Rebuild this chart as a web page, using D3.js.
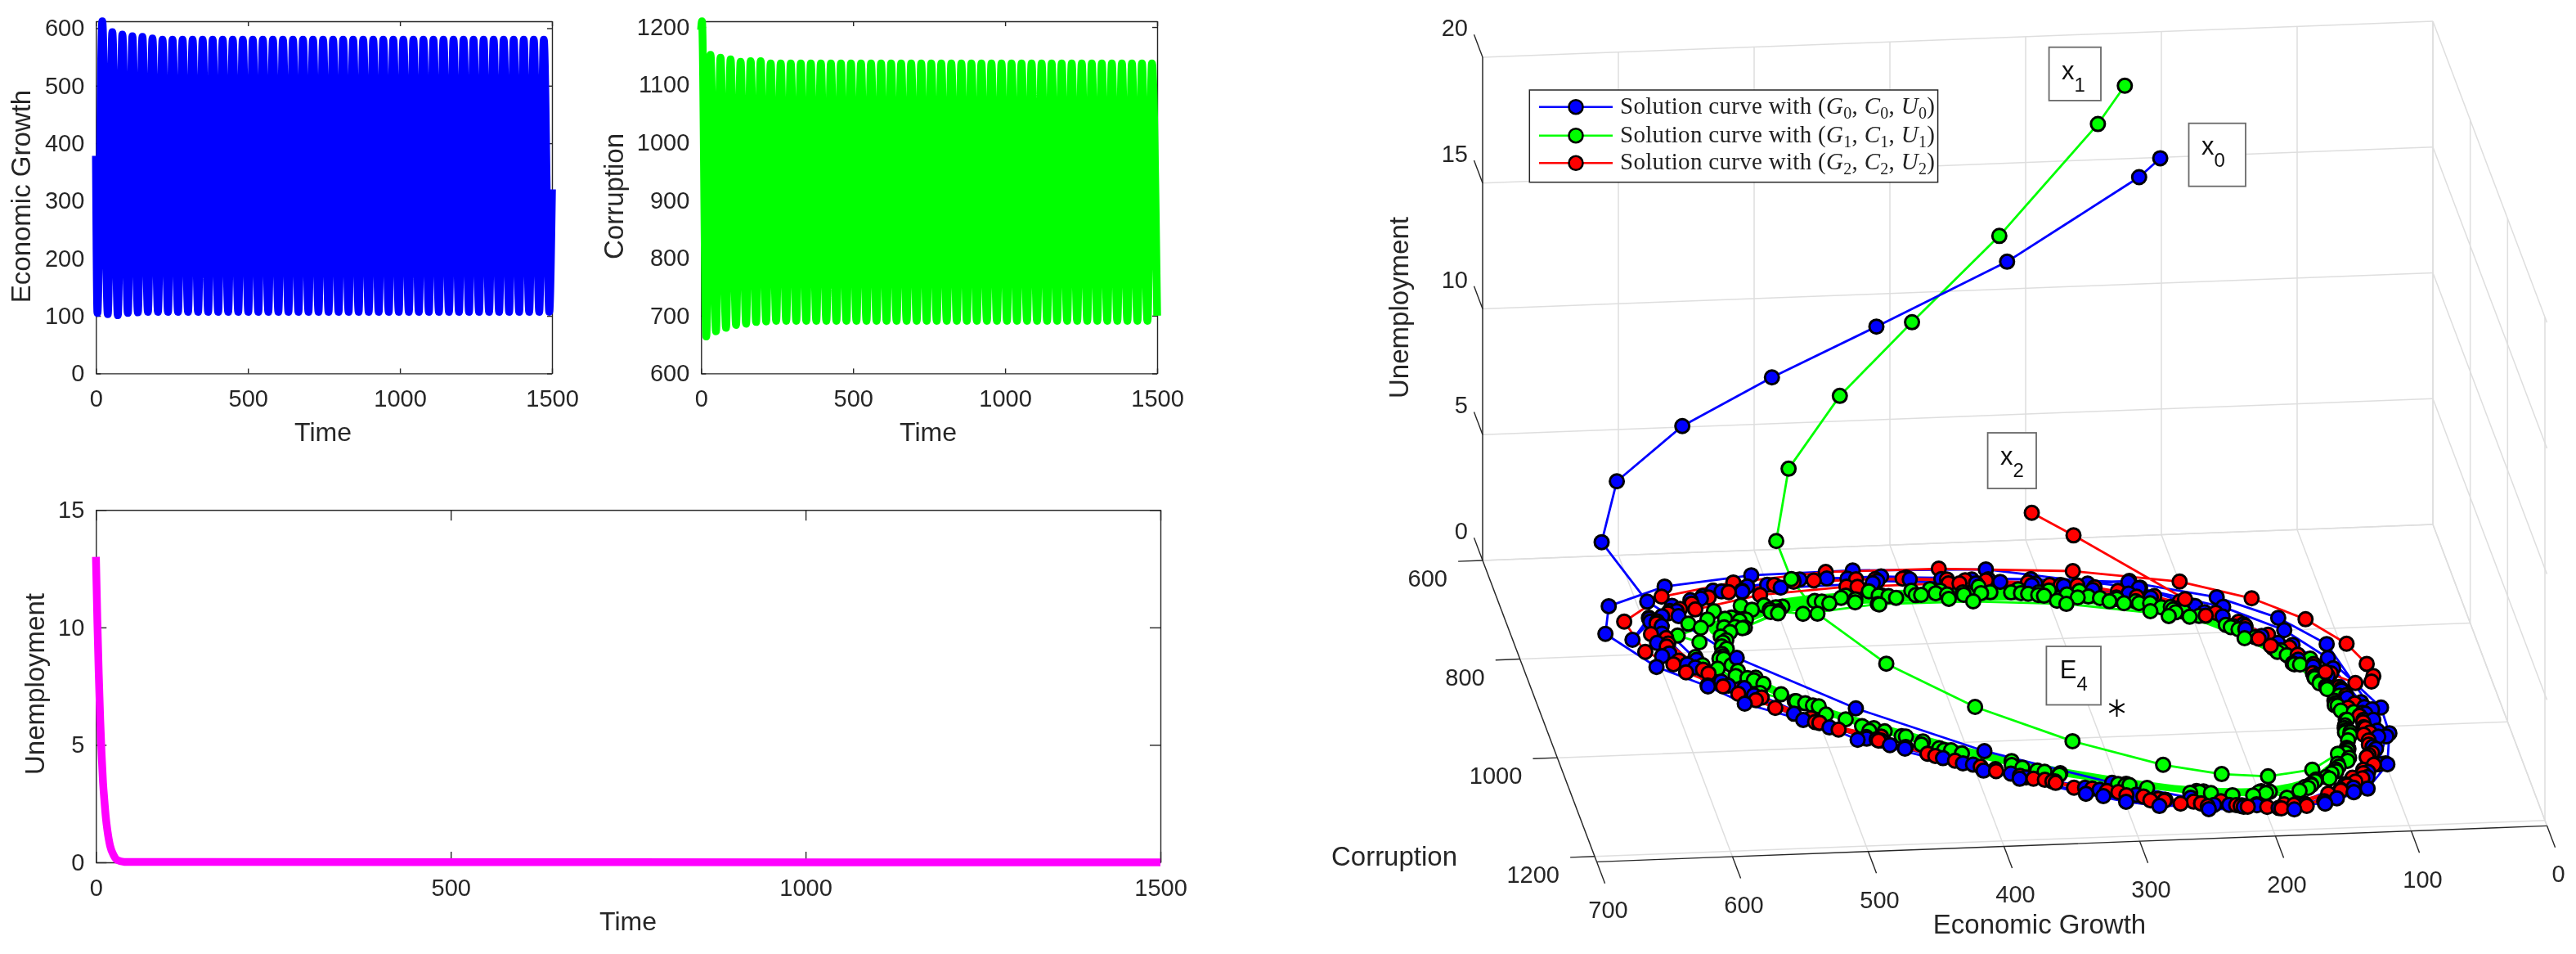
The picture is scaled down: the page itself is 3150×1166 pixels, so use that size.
<!DOCTYPE html>
<html>
<head>
<meta charset="utf-8">
<script src="https://cdn.jsdelivr.net/npm/d3@7"></script>
<style>
  body { margin: 0; background: #fff; }
  svg { filter: blur(0.5px); }
  text { font-family: "Liberation Sans", Arial, sans-serif; fill: #262626; }
</style>
</head>
<body>
<svg id="fig" width="3150" height="1166"></svg>
<script>
// time series (extremes of each oscillation)
var timeTicks = [0, 500, 1000, 1500];
var growthTicks = [0, 100, 200, 300, 400, 500, 600];
var corruptionTicks = [600, 700, 800, 900, 1000, 1100, 1200];
var unemploymentTicks = [0, 5, 10, 15];

var growthPeakT = [21,54,87,120,153,186,219,252,285,318,351,384,417,450,483,516,549,582,615,648,681,714,747,780,813,846,879,912,945,978,1011,1044,1077,1110,1143,1176,1209,1242,1275,1308,1341,1374,1407,1440,1473];
var growthPeakV = [612,593,589,586,585,582,580,580,580,580,580,580,580,580,580,580,580,580,580,580,580,580,580,580,580,580,580,580,580,580,580,580,580,580,580,580,580,580,580,580,580,580,580,580,580];
var growthLowT = [5,39,72,105,138,171,204,237,270,303,336,369,402,435,468,501,534,567,600,633,666,699,732,765,798,831,864,897,930,963,996,1029,1062,1095,1128,1161,1194,1227,1260,1293,1326,1359,1392,1425,1458,1491];
var growthLowV = [105,103,101,105,106,107,107,107,107,107,107,107,107,107,107,107,107,107,107,107,107,107,107,107,107,107,107,107,107,107,107,107,107,107,107,107,107,107,107,107,107,107,107,107,107,107];
var growthEndsT = [0, 1500];
var growthEndsV = [378, 320];

var corrPeakT = [3,31,64,97,130,163,196,229,262,295,328,361,394,427,460,493,526,559,592,625,658,691,724,757,790,823,856,889,922,955,988,1021,1054,1087,1120,1153,1186,1219,1252,1285,1318,1351,1384,1417,1450,1483];
var corrPeakV = [1210,1152,1147,1144,1140,1141,1141,1137,1137,1137,1137,1137,1137,1137,1137,1137,1137,1137,1137,1137,1137,1137,1137,1137,1137,1137,1137,1137,1137,1137,1137,1137,1137,1137,1137,1137,1137,1137,1137,1137,1137,1137,1137,1137,1137,1137];
var corrLowT = [17,49,82,115,148,181,214,247,280,313,346,379,412,445,478,511,544,577,610,643,676,709,742,775,808,841,874,907,940,973,1006,1039,1072,1105,1138,1171,1204,1237,1270,1303,1336,1369,1402,1435,1468];
var corrLowV = [664,673,679,684,686,689,690,691,691,691,691,691,691,691,691,691,691,691,691,691,691,691,691,691,691,691,691,691,691,691,691,691,691,691,691,691,691,691,691,691,691,691,691,691,691];
var corrEndsT = [0, 1500];
var corrEndsV = [1195, 700];

var unempT = [0,2,4,6,8,10,12,14,16,18,20,25,30,40,1500];
var unempV = [13,10.3,8,6.1,4.6,3.4,2.6,1.9,1.4,1,0.7,0.3,0.1,0.02,0];

// phase portrait, solution curves (U runs out to about 0 after the listed values)
var blueG = [208,223,320,412,488,554,605,621,598,545,471,388,304,251,205,155,120,99,89,88,113,137,175,231,337,434,509,575,621,631,
  603,571,549,494,477,394,314,241,179,131,106,92,95,110,138,177,237,307,397,475,541,595,613,
  595,590,560,516,470,420,375,325,270,215,170,130,108,98,100,118,145,178,225,285,350,415,480,535,575,
  590,575,540,500,455,400,345,290,245,190,145,115,105,104,112,135,165,205,265,330,395,455,515,560,585,
  588,572,545,505,460,430,365,315,275,225,175,135,112,106,110,126,155,190,240,305,372,440,500,550,578,
  596,596,580,571,556,511,463,445,407,370,326,299,276,236,216,205,170,155,131,117,105,100,103,97,97,101,101,112,135,165,195,230,236,267,308,307,338,348,419,423,491,520,541,552,573,573,595];
var blueC = [652,648,646,615,608,608,628,663,740,834,934,1019,1092,1128,1148,1150,1123,1076,1014,962,859,800,749,705,656,648,650,666,701,756,
  826,869,906,960,987,1058,1118,1152,1159,1129,1075,1020,965,831,775,729,692,679,666,662,678,727,770,
  735,800,860,930,985,1030,1066,1100,1130,1150,1150,1120,1075,1020,960,895,825,768,725,695,675,662,662,680,705,
  760,830,890,950,1000,1045,1085,1118,1140,1155,1140,1090,1040,985,925,860,795,745,705,682,670,662,672,695,725,
  745,815,875,940,990,1020,1075,1105,1128,1145,1148,1112,1060,1000,940,875,810,758,715,688,672,664,670,688,715,
  778,805,823,867,869,943,987,1008,1042,1077,1112,1131,1142,1144,1147,1146,1148,1149,1129,1100,1075,1074,1044,1008,986,973,950,880,830,785,745,704,690,692,691,679,676,683,671,675,677,682,678,693,716,726,729];
var blueU = [16,15.2,12,9,7,5.2,3.5,1.8,0.9,0.4,0.2];

var greenG = [229,248,322,387,441,483,498,490,477,438,384,322,262,222,189,155,132,121,121,122,140,168,202,288,355,425,482,499,528,543,547,555,548,534,493,444,372,294,245,192,156,135,121,117,115,125,145,173,211,256,302,
  360,420,470,505,530,548,552,545,520,480,430,365,300,250,205,170,145,125,118,118,122,135,160,195,235,285,340,
  395,450,495,525,540,550,548,530,500,455,405,340,280,235,195,160,138,124,119,120,128,150,178,220,270,325,380,
  415,465,505,535,545,552,540,512,470,420,355,295,245,200,165,142,126,120,119,125,142,168,205,250,305,360,
  410,460,500,530,548,552,536,505,462,412,350,292,240,198,160,138,124,120,120,128,148,175,212,262,318,372,
  440,500,540,579,565,572,569,559,535,511,496,466,441,432,417,371,339,243,220,192,181,163,155,147,135,127,123,117,116,109,112,122,126,139,126,170,217,213,229,227,237,246,250,275,278,294,297,306,313,319,347,347,372,376,383,391,397,424,422,428,441,446,508,518,525,535,546,553,560,568];
var greenC = [615,609,619,624,630,661,704,726,772,857,940,1011,1060,1083,1091,1081,1051,1009,954,917,867,813,766,731,719,717,731,724,754,752,795,814,850,855,934,983,1049,1095,1117,1122,1104,1071,1025,984,935,892,840,788,756,729,713,
  705,700,706,720,740,770,805,840,890,945,995,1055,1095,1118,1128,1122,1100,1060,1015,965,915,870,812,765,735,712,702,
  702,702,715,738,762,790,828,868,915,972,1022,1072,1105,1120,1124,1110,1082,1040,995,945,895,835,785,745,718,704,700,
  702,708,725,752,778,810,855,905,960,1010,1062,1098,1115,1122,1115,1090,1050,1005,955,905,850,795,755,725,706,700,
  706,712,728,755,782,815,860,910,965,1015,1065,1098,1116,1120,1112,1086,1045,1000,950,898,843,790,750,722,706,703,
  706,716,735,765,780,809,826,834,886,905,917,970,984,1001,1014,1041,1069,1117,1126,1122,1135,1117,1101,1097,1077,1066,1042,1009,984,969,922,921,909,869,859,795,763,745,752,736,731,734,722,706,719,724,703,711,708,698,703,690,712,695,691,702,693,718,700,691,712,698,711,719,710,733,719,735,751,742];
var greenU = [18.2,16.6,12.5,9.3,6.6,4.4,2.4,1.3,0.8,0.4,0.2,0.1];

// many unresolved turns of the green curve merge into a solid band in the original
var bandTopG = [118,125,145,173,211,256,302,355,425,482,525,550];
var bandTopC = [950,892,840,788,752,726,711,705,703,708,725,755];
var bandLowG = [553,535,493,444,372,294,245,192,156,135];
var bandLowC = [810,865,925,975,1040,1090,1112,1118,1098,1065];

var redG = [378,347,260,194,149,122,103,96,94,101,122,154,201,275,371,454,524,580,614,607,590,583,551,528,488,444,412,352,333,302,271,260,230,198,155,140,121,110,103,103,113,134,164,197,247,310,368,434,495,546,580,
  598,585,560,540,500,462,425,385,345,310,275,245,212,178,140,118,107,105,110,125,150,182,222,275,340,400,465,520,560,590,
  588,570,535,505,470,430,395,360,320,285,250,220,185,150,128,112,108,112,128,158,190,235,295,355,420,480,530,570,
  591,588,590,567,503,459,385,369,347,297,281,241,217,188,169,134,127,119,109,107,106,105,106,106,115,138,168,205,263,287,360,368,435,443,508,559];
var redC = [1200,1198,1163,1142,1108,1072,1020,979,929,872,805,749,705,671,651,649,663,686,733,795,822,839,886,917,965,1005,1036,1081,1099,1111,1132,1139,1137,1152,1145,1123,1102,1056,1011,971,918,850,789,744,709,685,673,666,671,691,720,
  760,815,870,900,950,990,1025,1060,1088,1108,1128,1140,1150,1150,1125,1085,1035,990,935,870,808,760,722,695,678,668,665,680,702,735,
  780,835,895,940,982,1020,1050,1078,1102,1122,1136,1146,1148,1130,1100,1060,1015,960,888,815,765,722,692,676,667,666,682,712,
  739,769,786,843,948,982,1056,1071,1085,1118,1130,1146,1148,1156,1153,1115,1108,1092,1076,1052,1027,1002,977,952,890,835,780,735,700,693,682,681,681,680,690,714];
var redU = [13,12,8.6,6.2,4.4,3.2,2.2,1.6,1.1,0.8,0.5,0.3,0.2,0.1];

var equilibriumG = [280], equilibriumC = [943], equilibriumU = [0];

var gTicks = [0,100,200,300,400,500,600,700];
var cTicks = [600,800,1000,1200];
var zTicks = [0,5,10,15,20];

var svg = d3.select("#fig");
var axisColor = "#262626";

function merged(tA, vA, tB, vB, tC, vC) {
  var pts = [];
  [[tA, vA], [tB, vB], [tC, vC]].forEach(function(s) {
    s[0].forEach(function(t, i) { pts.push([t, s[1][i]]); });
  });
  return d3.sort(pts, function(p) { return p[0]; });
}

// 2D panels
function panel(o) {
  var x = d3.scaleLinear().domain([0, 1500]).range([o.left, o.right]);
  var y = d3.scaleLinear().domain(o.ylim).range([o.bottom, o.top]);
  var g = svg.append("g");

  function style(ax) {
    ax.selectAll("path, line").attr("stroke", axisColor).attr("stroke-width", 1.4);
    ax.selectAll("text").attr("font-size", 29).attr("fill", axisColor).style("font-family", "Liberation Sans");
    ax.attr("font-family", null);
  }
  style(g.append("g").attr("transform", "translate(0," + o.bottom + ")")
    .call(d3.axisBottom(x).tickValues(timeTicks).tickSize(-o.tick).tickSizeOuter(0).tickPadding(20.5).tickFormat(d3.format("d"))));
  style(g.append("g").attr("transform", "translate(0," + o.top + ")")
    .call(d3.axisTop(x).tickValues(timeTicks).tickSize(-o.tick).tickSizeOuter(0).tickFormat("")));
  style(g.append("g").attr("transform", "translate(" + o.left + ",0)")
    .call(d3.axisLeft(y).tickValues(o.yticks).tickSize(-o.tick).tickSizeOuter(0).tickPadding(14).tickFormat(d3.format("d"))));
  style(g.append("g").attr("transform", "translate(" + o.right + ",0)")
    .call(d3.axisRight(y).tickValues(o.yticks).tickSize(-o.tick).tickSizeOuter(0).tickFormat("")));

  var line = d3.line().x(function(d) { return x(d[0]); }).y(function(d) { return y(d[1]); }).curve(d3.curveMonotoneX);
  g.append("path").attr("d", line(o.data)).attr("fill", "none").attr("stroke", o.color)
    .attr("stroke-width", 9.5).attr("stroke-linejoin", "round");

  g.append("text").attr("x", o.timeX).attr("y", o.timeY).attr("text-anchor", "middle").attr("font-size", 32).text("Time");
  g.append("text").attr("transform", "translate(" + o.labelX + "," + o.labelY + ") rotate(-90)")
    .attr("text-anchor", "middle").attr("font-size", 33).text(o.label);
}

panel({ left: 117.3, right: 675, top: 26, bottom: 456.4, ylim: [0, 612], yticks: growthTicks, tick: 6,
  data: merged(growthPeakT, growthPeakV, growthLowT, growthLowV, growthEndsT, growthEndsV), color: "#0000ff",
  timeX: 395, timeY: 539, label: "Economic Growth", labelX: 37, labelY: 240 });
panel({ left: 857.3, right: 1415, top: 26, bottom: 456.4, ylim: [600, 1210], yticks: corruptionTicks, tick: 6,
  data: merged(corrPeakT, corrPeakV, corrLowT, corrLowV, corrEndsT, corrEndsV), color: "#00ff00",
  timeX: 1135, timeY: 539, label: "Corruption", labelX: 762, labelY: 240 });
panel({ left: 117.3, right: 1419, top: 623.3, bottom: 1054, ylim: [0, 15], yticks: unemploymentTicks, tick: 13,
  data: d3.zip(unempT, unempV), color: "#ff00ff",
  timeX: 768, timeY: 1137, label: "Unemployment", labelX: 54, labelY: 836 });

// 3D panel: fixed oblique view, each data axis has its own pair of screen scales
var gToX = d3.scaleLinear().domain([0, 700]).range([2975, 1813]);
var gToY = d3.scaleLinear().domain([0, 700]).range([0, 44]);
var cToX = d3.scaleLinear().domain([600, 1200]).range([0, 137]);
var cToY = d3.scaleLinear().domain([600, 1200]).range([0, 361.7]);
var uToY = d3.scaleLinear().domain([0, 20]).range([641, 26]);
var cMax = 1211;

function project(g, c, u) {
  return [gToX(g) + cToX(c), gToY(g) + cToY(c) + uToY(u)];
}

var ax3 = svg.append("g");
function seg(a, b, color, w) {
  ax3.append("line").attr("x1", a[0]).attr("y1", a[1]).attr("x2", b[0]).attr("y2", b[1])
    .attr("stroke", color).attr("stroke-width", w);
}
var gridColor = "#dedede";
zTicks.forEach(function(z) {
  seg(project(700, 600, z), project(0, 600, z), gridColor, 1.5);
  seg(project(0, 600, z), project(0, cMax, z), gridColor, 1.5);
});
gTicks.forEach(function(g) {
  seg(project(g, 600, 0), project(g, 600, 20), gridColor, 1.5);
  seg(project(g, 600, 0), project(g, cMax, 0), gridColor, 1.5);
});
cTicks.forEach(function(c) {
  seg(project(700, c, 0), project(0, c, 0), gridColor, 1.5);
  seg(project(0, c, 0), project(0, c, 20), gridColor, 1.5);
});

// axis lines and ticks
seg(project(700, 600, 0), project(700, 600, 20), axisColor, 1.4);
seg(project(700, 600, 0), project(700, cMax, 0), axisColor, 1.4);
seg(project(700, cMax, 0), project(0, cMax, 0), axisColor, 1.4);

function tickLabel(x, y, anchor, txt) {
  ax3.append("text").attr("x", x).attr("y", y).attr("text-anchor", anchor).attr("font-size", 29).text(txt);
}
zTicks.forEach(function(z) {
  var p = project(700, 600, z);
  seg(p, project(700, 554, z), axisColor, 1.4);
  tickLabel(p[0] - 18, p[1] - 26, "end", z);
});
cTicks.forEach(function(c) {
  var p = project(700, c, 0);
  seg(p, project(718, c, 0), axisColor, 1.4);
  tickLabel(p[0] - 43, p[1] + 32, "end", c);
});
gTicks.forEach(function(g) {
  var p = project(g, cMax, 0);
  seg(p, project(g, cMax + 44, 0), axisColor, 1.4);
  tickLabel(p[0] + 14, p[1] + 69, "middle", g);
});
ax3.append("text").attr("x", 2494).attr("y", 1141).attr("text-anchor", "middle").attr("font-size", 33).text("Economic Growth");
ax3.append("text").attr("x", 1705).attr("y", 1058).attr("text-anchor", "middle").attr("font-size", 33).text("Corruption");
ax3.append("text").attr("transform", "translate(1722,376) rotate(-90)").attr("text-anchor", "middle").attr("font-size", 33).text("Unemployment");

// solution curves
var curveLine = d3.line();
function bandPath(gs, cs, width) {
  var pts = gs.map(function(g, i) { return project(g, cs[i], 0); });
  svg.append("path").attr("d", curveLine.curve(d3.curveCatmullRom)(pts)).attr("fill", "none")
    .attr("stroke", "#00ff00").attr("stroke-width", width).attr("stroke-linecap", "round");
  curveLine.curve(d3.curveLinear);
}
bandPath(bandLowG, bandLowC, 7);

var curves = [
  { color: "#00ff00", g: greenG, c: greenC, u: greenU },
  { color: "#0000ff", g: blueG, c: blueC, u: blueU },
  { color: "#ff0000", g: redG, c: redC, u: redU }
];
var allMarkers = [];
curves.forEach(function(s) {
  var pts = s.g.map(function(g, i) {
    var u = i < s.u.length ? s.u[i] : 0;
    allMarkers.push({ color: s.color, depth: s.c[i], p: project(g, s.c[i], u) });
    return project(g, s.c[i], u);
  });
  svg.append("path").attr("d", curveLine(pts)).attr("fill", "none")
    .attr("stroke", s.color).attr("stroke-width", 2.8).attr("stroke-linejoin", "round");
});
bandPath(bandTopG, bandTopC, 15);

// nearer points (larger C) cover the farther ones, like the depth buffer in the original
svg.append("g").selectAll("circle").data(d3.sort(allMarkers, function(d) { return d.depth; })).join("circle")
  .attr("cx", function(d) { return d.p[0]; })
  .attr("cy", function(d) { return d.p[1]; })
  .attr("r", 8.5)
  .attr("fill", function(d) { return d.color; })
  .attr("stroke", "#000").attr("stroke-width", 3);

// equilibrium
var eq = project(equilibriumG[0], equilibriumC[0], equilibriumU[0]);
svg.append("path").attr("transform", "translate(" + eq[0] + "," + eq[1] + ")")
  .attr("d", d3.symbol(d3.symbolAsterisk, 320)()).attr("fill", "none").attr("stroke", "#000").attr("stroke-width", 2);

// annotation boxes
var notes = [
  { x0: 2505.6, x1: 2569, y0: 57.7, y1: 122.9, tx: 2521, ty: 97, main: "x", sub: "1" },
  { x0: 2676.5, x1: 2746, y0: 150.7, y1: 227.7, tx: 2692, ty: 189.4, main: "x", sub: "0" },
  { x0: 2430.6, x1: 2490, y0: 529, y1: 597, tx: 2446, ty: 568, main: "x", sub: "2" },
  { x0: 2502.4, x1: 2569, y0: 790, y1: 861.5, tx: 2518.7, ty: 829, main: "E", sub: "4" }
];
notes.forEach(function(n) {
  svg.append("rect").attr("x", n.x0).attr("y", n.y0).attr("width", n.x1 - n.x0).attr("height", n.y1 - n.y0)
    .attr("fill", "#fff").attr("stroke", "#6a6a6a").attr("stroke-width", 1.8);
  var t = svg.append("text").attr("x", n.tx).attr("y", n.ty).attr("font-size", 31).style("fill", "#111");
  t.append("tspan").text(n.main);
  t.append("tspan").attr("dy", 15).attr("font-size", 24).text(n.sub);
});

// legend
var legendRows = [
  { color: "#0000ff", y: 130.7, i: "0" },
  { color: "#00ff00", y: 165.7, i: "1" },
  { color: "#ff0000", y: 199.3, i: "2" }
];
var lg = svg.append("g");
lg.append("rect").attr("x", 1870.3).attr("y", 110).attr("width", 499.3).attr("height", 112.7)
  .attr("fill", "#fff").attr("stroke", "#262626").attr("stroke-width", 1.5);
legendRows.forEach(function(r) {
  lg.append("line").attr("x1", 1882).attr("x2", 1972).attr("y1", r.y).attr("y2", r.y)
    .attr("stroke", r.color).attr("stroke-width", 2.6);
  lg.append("circle").attr("cx", 1927).attr("cy", r.y).attr("r", 8.5).attr("fill", r.color)
    .attr("stroke", "#000").attr("stroke-width", 2.6);
  var t = lg.append("text").attr("x", 1981).attr("y", r.y + 8).attr("font-size", 29)
    .style("font-family", "Liberation Serif").style("fill", "#222").style("letter-spacing", "0.3px");
  t.append("tspan").text("Solution curve with (");
  ["G", "C", "U"].forEach(function(v, k) {
    t.append("tspan").attr("font-style", "italic").text(v);
    t.append("tspan").attr("dy", 6).attr("font-size", 20).text(r.i);
    t.append("tspan").attr("dy", -6).text(k < 2 ? ", " : ")");
  });
});
</script>
</body>
</html>
